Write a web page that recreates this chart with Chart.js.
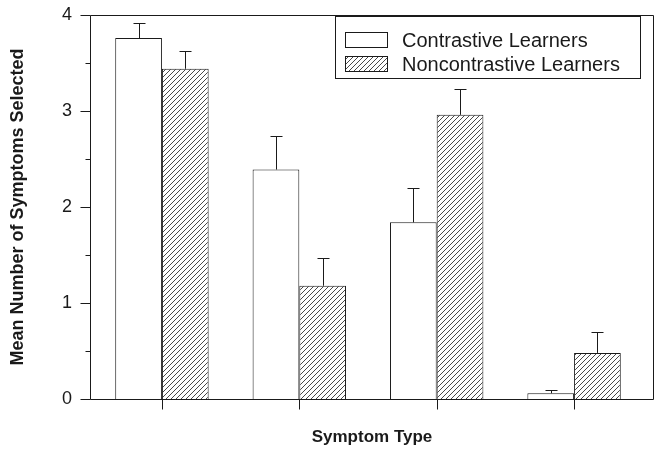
<!DOCTYPE html>
<html>
<head>
<meta charset="utf-8">
<script src="https://cdn.jsdelivr.net/npm/chart.js@4/dist/chart.umd.min.js"></script>
<style>
html,body{margin:0;padding:0;background:#fff;}
#wrap{width:655px;height:474px;position:relative;}
</style>
</head>
<body>
<div id="wrap"><canvas id="c"></canvas></div>
<script>
// ---- data ----
const categories = [1, 2, 3, 4];           // symptom-type positions (unlabelled in the original)
const contrastive = [3.76, 2.39, 1.84, 0.06];
const contrastiveErr = [0.16, 0.35, 0.36, 0.03];
const noncontrastive = [3.44, 1.18, 2.96, 0.48];
const noncontrastiveErr = [0.19, 0.29, 0.27, 0.22];
const yTicks = [0, 1, 2, 3, 4];
const seriesNames = ['Contrastive Learners', 'Noncontrastive Learners'];
const xTitle = 'Symptom Type';
const yTitle = 'Mean Number of Symptoms Selected';

const INK = '#1a1a1a';
const FONT = "'Liberation Sans', Arial, Helvetica, sans-serif";

function makeHatch() {
  const s = 5;
  const p = document.createElement('canvas');
  p.width = s; p.height = s;
  const g = p.getContext('2d');
  g.fillStyle = '#fff'; g.fillRect(0, 0, s, s);
  g.strokeStyle = INK; g.lineWidth = 0.8;
  g.beginPath();
  g.moveTo(-1, s + 1); g.lineTo(s + 1, -1);
  g.moveTo(-1 - s, s + 1); g.lineTo(1, -1);
  g.moveTo(s - 1, 2 * s + 1); g.lineTo(2 * s + 1, s - 1);
  g.stroke();
  return document.getElementById('c').getContext('2d').createPattern(p, 'repeat');
}
const hatch = makeHatch();

const errors = [contrastiveErr, noncontrastiveErr];

const extras = {
  id: 'extras',
  afterDatasetsDraw(chart) {
    const ctx = chart.ctx;
    const ys = chart.scales.y, xs = chart.scales.x;
    const a = chart.chartArea;
    ctx.save();
    ctx.strokeStyle = INK;
    ctx.lineWidth = 1;
    // error bars
    chart.data.datasets.forEach((ds, di) => {
      const meta = chart.getDatasetMeta(di);
      meta.data.forEach((el, i) => {
        const v = ds.data[i].y;
        const top = ys.getPixelForValue(v + errors[di][i]);
        const x = Math.round(el.x) + 0.5;
        ctx.beginPath();
        ctx.moveTo(x, el.y);
        ctx.lineTo(x, Math.round(top) + 0.5);
        ctx.moveTo(x - 6, Math.round(top) + 0.5);
        ctx.lineTo(x + 6, Math.round(top) + 0.5);
        ctx.stroke();
      });
    });
    // frame
    const L = Math.round(a.left) + 0.5, R = Math.round(a.right) - 0.5;
    const T = Math.round(a.top) + 0.5, B = Math.round(a.bottom) + 0.5;
    ctx.beginPath();
    ctx.moveTo(L, T); ctx.lineTo(R, T); ctx.lineTo(R, B);
    ctx.moveTo(L, T); ctx.lineTo(L, B); ctx.lineTo(R, B);
    ctx.stroke();
    // y tick marks (major and minor)
    for (let v = 0; v <= 4.001; v += 0.5) {
      const y = Math.round(ys.getPixelForValue(v)) + 0.5;
      const len = Math.abs(v - Math.round(v)) < 1e-6 ? 10 : 5;
      ctx.beginPath(); ctx.moveTo(L - len, y); ctx.lineTo(L, y); ctx.stroke();
    }
    // x tick marks at category centres
    categories.forEach(c => {
      const x = Math.round(xs.getPixelForValue(c)) + 0.5;
      ctx.beginPath(); ctx.moveTo(x, B); ctx.lineTo(x, B + 10); ctx.stroke();
    });
    // legend
    const lx = 335.5, ly = 16.5, lw = 305, lh = 62;
    ctx.fillStyle = '#fff';
    ctx.fillRect(lx, ly, lw, lh);
    ctx.strokeRect(lx, ly, lw, lh);
    const fills = ['#fff', hatch];
    ctx.font = '20px ' + FONT;
    ctx.textBaseline = 'middle';
    seriesNames.forEach((n, i) => {
      const sy = 32.5 + i * 24;
      ctx.fillStyle = fills[i];
      ctx.fillRect(345.5, sy, 42, 15);
      ctx.strokeRect(345.5, sy, 42, 15);
      ctx.fillStyle = INK;
      ctx.fillText(n, 402, sy + 8.5);
    });
    ctx.restore();
  }
};

const xMin = 1 - 72 / 137.5, xMax = 4 + 80 / 137.5;

new Chart(document.getElementById('c'), {
  type: 'bar',
  data: {
    datasets: [
      {
        label: seriesNames[0],
        data: categories.map((c, i) => ({ x: c, y: contrastive[i] })),
        backgroundColor: '#fff',
        borderColor: INK,
        borderWidth: 1,
        categoryPercentage: 0.68,
        barPercentage: 1
      },
      {
        label: seriesNames[1],
        data: categories.map((c, i) => ({ x: c, y: noncontrastive[i] })),
        backgroundColor: hatch,
        borderColor: INK,
        borderWidth: 1,
        categoryPercentage: 0.68,
        barPercentage: 1
      }
    ]
  },
  options: {
    responsive: true,
    maintainAspectRatio: false,
    animation: false,
    events: [],
    layout: { padding: { top: 15, right: 1, left: 0, bottom: 0 } },
    plugins: { legend: { display: false }, tooltip: { enabled: false } },
    scales: {
      x: {
        type: 'linear',
        offset: false,
        min: xMin, max: xMax,
        afterBuildTicks(s) { s.ticks = categories.map(v => ({ value: v })); },
        grid: { display: false, drawTicks: false, offset: false },
        border: { display: false },
        ticks: { display: false },
        title: {
          display: true, text: xTitle, color: INK,
          font: { family: FONT, size: 17, weight: 'bold' },
          padding: { top: 0, bottom: 26 }
        },
        afterFit(s) { s.height = 75; s.paddingLeft = 0; s.paddingRight = 0; }
      },
      y: {
        min: 0, max: 4,
        afterBuildTicks(s) { s.ticks = yTicks.map(v => ({ value: v })); },
        grid: { display: false, drawTicks: false, tickLength: 0 },
        border: { display: false },
        ticks: {
          color: INK, padding: 18,
          font: { family: FONT, size: 18 }
        },
        title: {
          display: true, text: yTitle, color: INK,
          font: { family: FONT, size: 18, weight: 'bold' },
          padding: { top: 7, bottom: 0 }
        },
        afterFit(s) { s.width = 90; s.paddingTop = 0; s.paddingBottom = 0; }
      }
    }
  },
  plugins: [extras]
});
</script>
</body>
</html>
